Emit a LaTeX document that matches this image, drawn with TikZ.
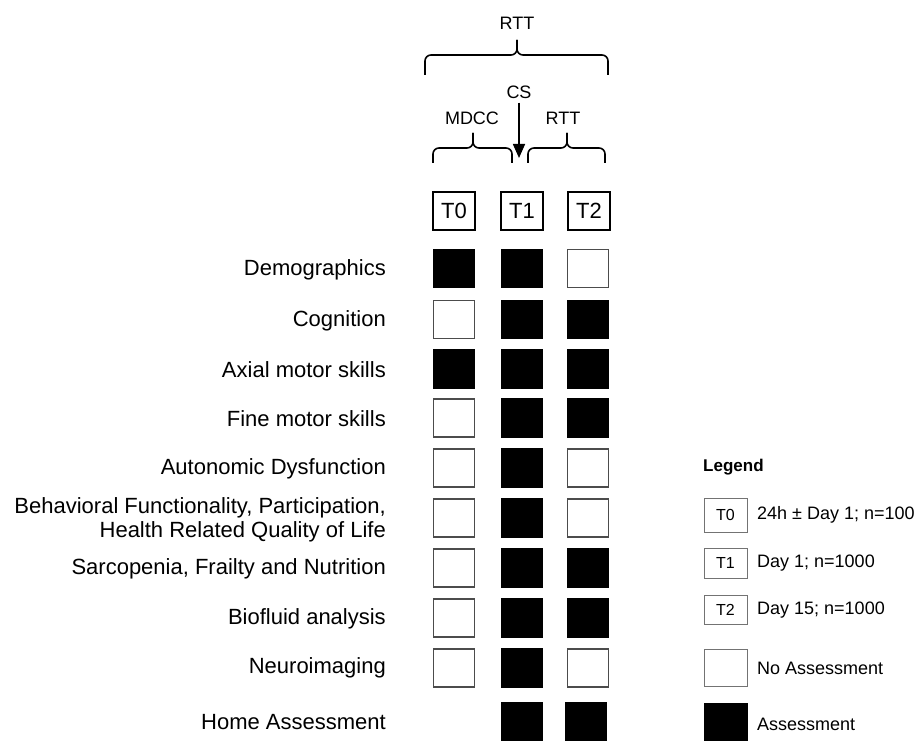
\documentclass[tikz,border=0pt]{standalone}
\usepackage{fontspec}
\setmainfont{Liberation Sans}
\usetikzlibrary{arrows.meta}
\begin{document}
\begin{tikzpicture}[x=1pt,y=-1pt,
  box/.style={draw=black!70, line width=1.4pt, minimum width=41pt, minimum height=38pt, inner sep=0pt},
  on/.style={box, fill=black, draw=black},
  off/.style={box, fill=white},
  head/.style={draw=black, line width=1.7pt, minimum width=42pt, minimum height=38pt, inner sep=0pt, font=\fontsize{22}{24}\selectfont},
  lab/.style={anchor=east, font=\fontsize{22}{24}\selectfont, inner sep=0pt, align=right},
  toplab/.style={font=\fontsize{18}{20}\selectfont, inner sep=0pt},
  brace/.style={line width=1.6pt, rounded corners=6pt},
  lbox/.style={draw=black!55, line width=1pt, minimum width=43pt, inner sep=0pt, font=\fontsize{16}{18}\selectfont},
  ltext/.style={anchor=west, font=\fontsize{18}{20}\selectfont, inner sep=0pt}
]
\useasboundingbox (0,0) rectangle (922,741);

% top labels and braces
\node[toplab] (rttall) at (517,23) {RTT};
\node[toplab] (cs) at (519,92) {CS};
\node[toplab] (mdcc) at (472,118) {MDCC};
\node[toplab] (rtt) at (563,118) {RTT};
\draw[brace] (425,75) -- (425,55) -- (517,55) -- (517,40);
\draw[brace] (608,75) -- (608,55) -- (517,55) -- (517,40);
\draw[brace] (433,163) -- (433,148) -- (473,148) -- (473,133);
\draw[brace] (512,163) -- (512,148) -- (473,148) -- (473,133);
\draw[brace] (528,163) -- (528,148) -- (567,148) -- (567,133);
\draw[brace] (605,163) -- (605,148) -- (567,148) -- (567,133);
\coordinate (csend) at (519,158);
\draw[line width=1.6pt, -{Triangle[width=12pt,length=14pt]}] (cs.south) ++(0,4) -- (csend);

% headers
\node[head] (h0) at (454,211) {T0};
\node[head] (h1) at (522,211) {T1};
\node[head] (h2) at (589,211) {T2};

% row labels
\node[lab] (r1) at (386,270) {Demographics};
\node[lab] (r2) at (386,321) {Cognition};
\node[lab] (r3) at (386,370) {Axial motor skills};
\node[lab] (r4) at (386,419) {Fine motor skills};
\node[lab] (r5) at (386,469) {Autonomic Dysfunction};
\node[lab] (r6) at (386,520) {Behavioral Functionality, Participation,\\Health Related Quality of Life};
\node[lab] (r7) at (386,569) {Sarcopenia, Frailty and Nutrition};
\node[lab] (r8) at (386,619) {Biofluid analysis};
\node[lab] (r9) at (386,668) {Neuroimaging};
\node[lab] (r10) at (386,722) {Home Assessment};

% grid
\node[on]  (c1a) at (454,268.5) {}; \node[on]  (c1b) at (522,268.5) {}; \node[off] (c1c) at (588,268.5) {};
\node[off] (c2a) at (454,319.5) {}; \node[on]  (c2b) at (522,319.5) {}; \node[on]  (c2c) at (588,319.5) {};
\node[on]  (c3a) at (454,369) {};   \node[on]  (c3b) at (522,369) {};   \node[on]  (c3c) at (588,369) {};
\node[off] (c4a) at (454,418) {};   \node[on]  (c4b) at (522,418) {};   \node[on]  (c4c) at (588,418) {};
\node[off] (c5a) at (454,468) {};   \node[on]  (c5b) at (522,468) {};   \node[off] (c5c) at (588,468) {};
\node[off] (c6a) at (454,518) {};   \node[on]  (c6b) at (522,518) {};   \node[off] (c6c) at (588,518) {};
\node[off] (c7a) at (454,568) {};   \node[on]  (c7b) at (522,568) {};   \node[on]  (c7c) at (588,568) {};
\node[off] (c8a) at (454,618) {};   \node[on]  (c8b) at (522,618) {};   \node[on]  (c8c) at (588,618) {};
\node[off] (c9a) at (454,668) {};   \node[on]  (c9b) at (522,668) {};   \node[off] (c9c) at (588,668) {};
\node[on]  (c10b) at (522,722) {};  \node[on]  (c10c) at (586,722) {};

% legend
\node[anchor=west, inner sep=0pt, font=\bfseries\fontsize{17}{19}\selectfont] (leg) at (703,467) {Legend};
\node[lbox, minimum height=34pt] (l0) at (725.5,515) {T0};
\node[lbox, minimum height=30pt] (l1) at (725.5,563) {T1};
\node[lbox, minimum height=29pt] (l2) at (725.5,610) {T2};
\node[lbox, minimum height=37pt] (l3) at (725.5,668) {};
\node[lbox, minimum height=37pt, fill=black, draw=black] (l4) at (725.5,722) {};
\node[ltext] (t0) at (757,515) {24h ± Day 1; n=100};
\node[ltext] (t1) at (757,563) {Day 1; n=1000};
\node[ltext] (t2) at (757,610) {Day 15; n=1000};
\node[ltext] (t3) at (757,668) {No Assessment};
\node[ltext] (t4) at (757,724) {Assessment};
\end{tikzpicture}
\end{document}
